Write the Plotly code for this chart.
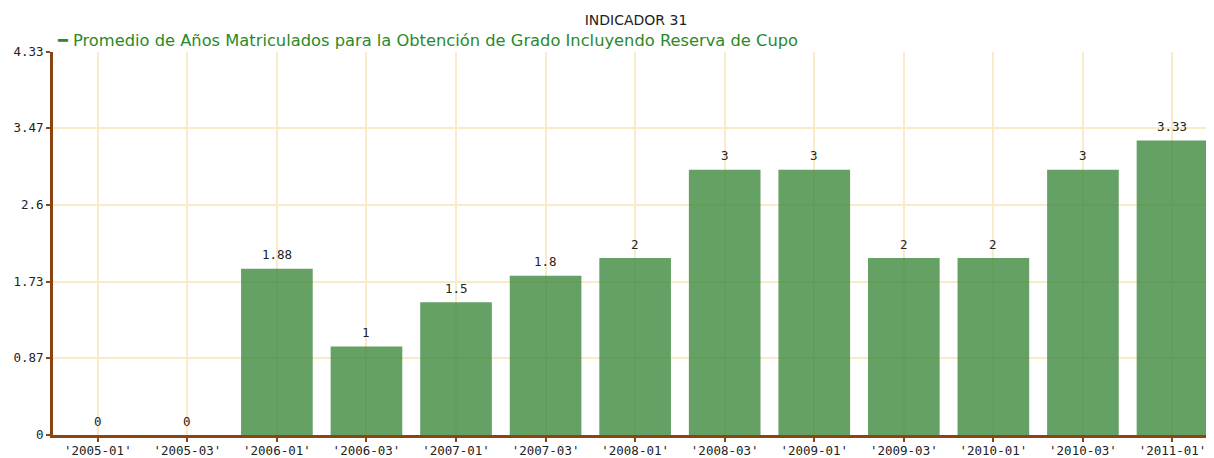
import plotly.graph_objects as go

categories = ["'2005-01'", "'2005-03'", "'2006-01'", "'2006-03'", "'2007-01'", "'2007-03'",
              "'2008-01'", "'2008-03'", "'2009-01'", "'2009-03'", "'2010-01'", "'2010-03'", "'2011-01'"]
values = [0, 0, 1.88, 1, 1.5, 1.8, 2, 3, 3, 2, 2, 3, 3.33]
y_ticks = [0, 0.87, 1.73, 2.6, 3.47, 4.33]
series_name = "Promedio de Años Matriculados para la Obtención de Grado Incluyendo Reserva de Cupo"
title = "INDICADOR 31"

labels = [("%g" % v) for v in values]
xpos = list(range(len(categories)))

FONT = "DejaVu Sans, Verdana, sans-serif"
MONO = "DejaVu Sans Mono, monospace"
axis_color = "#8B4513"
grid_color = "#F9EAC8"

fig = go.Figure()
fig.add_trace(go.Bar(
    x=xpos, y=values,
    marker=dict(color="rgba(58,134,58,0.78)", line=dict(width=0)),
    width=0.8, name=series_name, showlegend=False, hoverinfo="x+y",
))

for xv, yv, lab in zip(xpos, values, labels):
    fig.add_annotation(x=xv, y=yv, text=lab, showarrow=False, yshift=14,
                       xanchor="center", yanchor="middle",
                       font=dict(family=MONO, size=12.5, color="#222222"))

fig.update_layout(
    width=1206, height=450,
    margin=dict(l=45, r=2.5, t=44, b=23, autoexpand=False),
    paper_bgcolor="white", plot_bgcolor="white",
    font=dict(family=FONT, size=12, color="#222222"),
    title=dict(text=title, xref="container", x=628 / 1206, xanchor="center",
               y=1 - 12 / 450, yanchor="middle",
               font=dict(family=FONT, size=14, color="#222222")),
    xaxis=dict(
        tickmode="array", tickvals=xpos, ticktext=categories,
        range=[-0.5, 12.43], showgrid=True, gridcolor=grid_color, gridwidth=2,
        showline=True, linecolor=axis_color, linewidth=3,
        ticks="outside", ticklen=4, tickcolor=axis_color, tickwidth=2,
        ticklabelstandoff=-2,
        tickfont=dict(family=MONO, size=12.5, color="#222222"),
        zeroline=False, automargin=False,
    ),
    yaxis=dict(
        tickmode="array", tickvals=y_ticks, ticktext=[("%g" % t) for t in y_ticks],
        range=[0, 4.33], showgrid=True, gridcolor=grid_color, gridwidth=2,
        showline=True, linecolor=axis_color, linewidth=3,
        ticks="outside", ticklen=4, tickcolor=axis_color, tickwidth=2,
        tickfont=dict(family=MONO, size=12.5, color="#222222"),
        zeroline=False, automargin=False,
    ),
    bargap=0.2,
)
fig.add_annotation(
    text="━ " + series_name, xref="paper", yref="paper", x=0.0015, y=1 + 11 / 383,
    xanchor="left", yanchor="middle", showarrow=False,
    font=dict(family=FONT, size=16.3, color="#2A8A2A"),
)
fig.write_html("out.html")
